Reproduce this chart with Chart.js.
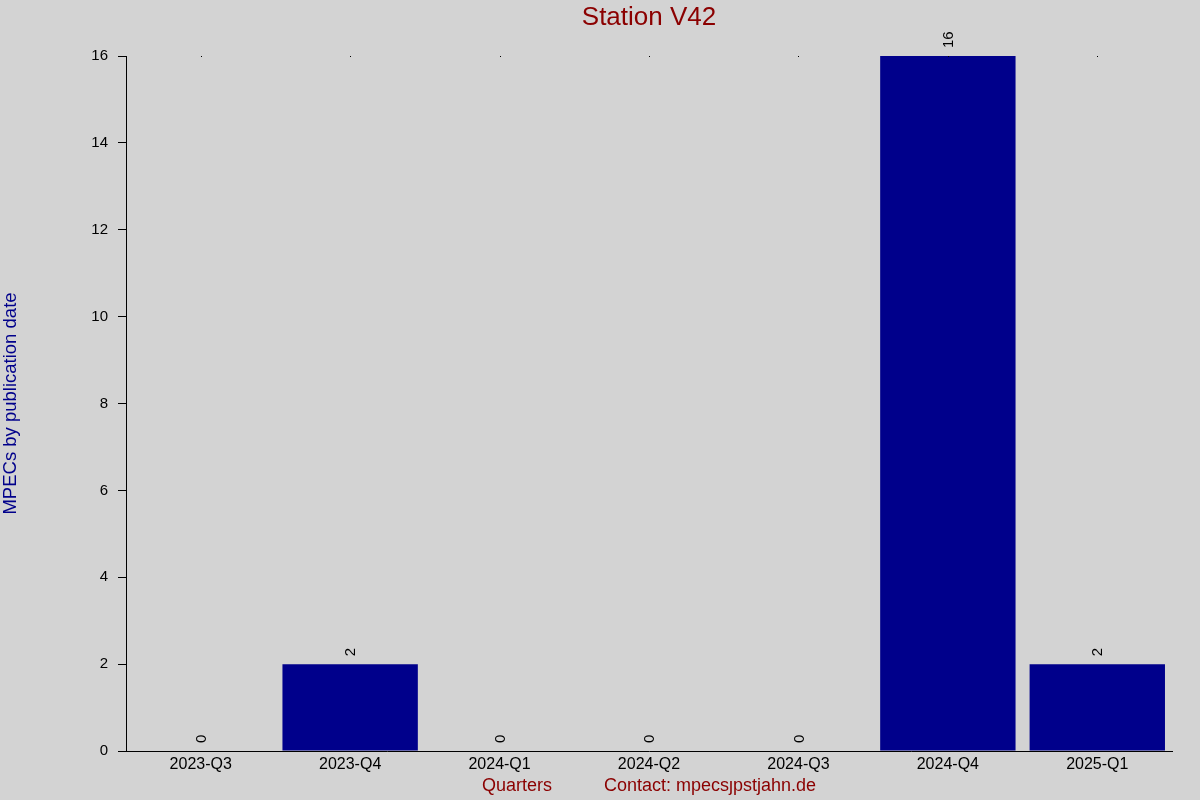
<!DOCTYPE html>
<html>
<head>
<meta charset="utf-8">
<script src="https://cdn.jsdelivr.net/npm/chart.js@4/dist/chart.umd.min.js"></script>
<style>
  html, body { margin: 0; padding: 0; background: #d3d3d3; }
  #wrap { width: 1200px; height: 800px; }
</style>
</head>
<body>
<div id="wrap"><canvas id="chart" width="1200" height="800"></canvas></div>
<script>
// chart data
const quarters = ['2023-Q3', '2023-Q4', '2024-Q1', '2024-Q2', '2024-Q3', '2024-Q4', '2025-Q1'];
const mpecCounts = [0, 2, 0, 0, 0, 16, 2];
const yTicks = [0, 2, 4, 6, 8, 10, 12, 14, 16];

const chartTitle = 'Station V42';
const yTitle = 'MPECs by publication date';
const xTitle = 'Quarters';
const contactText = 'Contact: mpecs\u0237pstjahn.de';

const FONT = '"Liberation Sans", Arial, sans-serif';

// Labels, titles and small marks drawn on top of the chart
const decorPlugin = {
    id: 'decor',
    afterDraw(chart) {
        const ctx = chart.ctx;
        const area = chart.chartArea;
        const meta = chart.getDatasetMeta(0);
        ctx.save();

        // value labels above the bars, rotated
        ctx.fillStyle = '#000';
        ctx.font = '15px ' + FONT;
        ctx.textAlign = 'left';
        ctx.textBaseline = 'middle';
        meta.data.forEach((bar, i) => {
            ctx.save();
            ctx.translate(bar.x + 1, bar.y - 8);
            ctx.rotate(-Math.PI / 2);
            ctx.fillText(String(mpecCounts[i]), 0, 0);
            ctx.restore();
        });

        // tiny dots along the top of the plot
        const xs = chart.scales.x;
        quarters.forEach((q, i) => {
            ctx.fillRect(Math.round(xs.getPixelForValue(i)), area.top, 1, 1);
        });

        // title
        const cx = (area.left + area.right) / 2;
        ctx.fillStyle = '#8b0000';
        ctx.font = '26px ' + FONT;
        ctx.textAlign = 'center';
        ctx.textBaseline = 'middle';
        ctx.fillText(chartTitle, cx, 18);

        // bottom captions
        ctx.font = '18px ' + FONT;
        ctx.fillText(xTitle, 517, 786);
        ctx.fillText(contactText, 710, 786);

        // y axis title
        ctx.fillStyle = '#00008b';
        ctx.font = '18.5px ' + FONT;
        ctx.translate(11, (area.top + area.bottom) / 2);
        ctx.rotate(-Math.PI / 2);
        ctx.fillText(yTitle, 0, 0);

        ctx.restore();
    }
};

const ctx = document.getElementById('chart');
new Chart(ctx, {
    type: 'bar',
    data: {
        labels: quarters,
        datasets: [{
            data: mpecCounts,
            backgroundColor: '#00008b',
            borderWidth: 0,
            categoryPercentage: 1.0,
            barPercentage: 0.906
        }]
    },
    options: {
        responsive: false,
        animation: false,
        devicePixelRatio: 1,
        layout: { padding: { left: 0, right: 28, top: 56, bottom: 0 } },
        plugins: {
            legend: { display: false },
            tooltip: { enabled: false },
            title: { display: false }
        },
        scales: {
            x: {
                afterFit: s => { s.height = 49; },
                grid: { display: false, drawTicks: false },
                border: { display: true, color: '#000', width: 1 },
                ticks: {
                    color: '#000',
                    font: { family: FONT, size: 16 },
                    padding: 4,
                    maxRotation: 0
                }
            },
            y: {
                min: 0,
                max: 16,
                afterFit: s => { s.width = 126; },
                afterBuildTicks: s => { s.ticks = yTicks.map(v => ({ value: v })); },
                grid: {
                    drawOnChartArea: false,
                    drawTicks: true,
                    tickLength: 8,
                    color: '#000'
                },
                border: { display: true, color: '#000', width: 1 },
                ticks: {
                    color: '#000',
                    font: { family: FONT, size: 15 },
                    padding: 10
                }
            }
        }
    },
    plugins: [decorPlugin]
});
</script>
</body>
</html>
